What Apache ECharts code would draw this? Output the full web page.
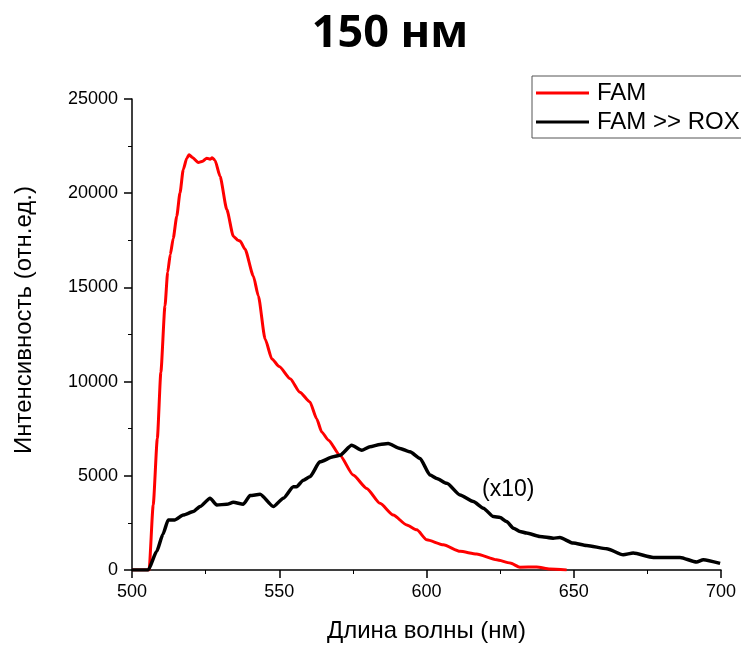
<!DOCTYPE html>
<html>
<head>
<meta charset="utf-8">
<script src="https://cdn.jsdelivr.net/npm/echarts@6/dist/echarts.min.js"></script>
<style>
  html, body { margin: 0; padding: 0; background: #fff; }
  #chart { width: 741px; height: 648px; }
</style>
</head>
<body>
<div id="chart"></div>
<script>
// FAM spectrum (wavelength, intensity)
const famX = [500, 505.8, 507.2, 508.6, 509.8, 511.2, 512.1, 513.0, 514.0, 515.2, 516.3, 517.4, 518.6, 519.4, 520.5,
  522.5, 524.0, 525.4, 526.5, 527.2, 528.2, 529.9, 532.2, 534.4, 536.0, 536.7, 538.4, 541.2, 542.9, 545.2,
  547.5, 550, 553.7, 557, 560.4, 562.7, 564.4, 566.7, 570.6, 575.1, 579.7, 584.2, 588.7, 593.3, 596.7,
  600.1, 605.7, 611.4, 617, 623.8, 628.4, 631.7, 637.4, 641.9, 647.6]
const famY = [0, 0, 3450, 6980, 10500, 14020, 15800, 16750, 17600, 18780, 20020, 21250, 21860, 22040, 21900,
  21630, 21700, 21860, 21800, 21880, 21740, 20900, 19130, 17720, 17500, 17460, 17020, 15610, 14550, 12260,
  11200, 10800, 10150, 9440, 8920, 8030, 7330, 6890, 6090, 5040, 4330, 3540, 2920, 2390, 2130,
  1600, 1340, 990, 850, 540, 370, 150, 160, 50, 0]

// FAM >> ROX spectrum (x10)
const roxX = [500, 505.5, 508.4, 510.5, 512.3, 514.6, 517.4, 520.8, 523.1, 526.5, 528.8, 532.2, 534.4, 537.8,
  540.1, 543.5, 548, 551.4, 554.8, 555.9, 558.2, 560.4, 563.8, 568.3, 570.6, 574.6, 578, 580.8, 584.2, 587,
  591, 594.4, 597.8, 601.2, 603.5, 606.9, 611.4, 615.9, 619.3, 622.7, 625, 627.2, 629.5, 631.7, 634, 638.5,
  643, 645.3, 649.8, 654.4, 661.2, 666.8, 670.2, 677, 686.1, 691.7, 694, 699.7]
const roxY = [0, 0, 990, 1900, 2660, 2660, 2920, 3100, 3370, 3810, 3450, 3490, 3590, 3490,
  3950, 4020, 3370, 3810, 4420, 4420, 4770, 4950, 5740, 6010, 6090, 6620, 6360, 6540, 6660, 6710,
  6450, 6270, 5920, 5040, 4860, 4600, 3980, 3630, 3280, 2840, 2790, 2570, 2220, 2050, 1960, 1780,
  1690, 1720, 1430, 1300, 1130, 810, 900, 670, 670, 420, 550, 350]

const seriesNames = ['FAM', 'FAM >> ROX']
const xTicks = { min: 500, max: 700, step: 50 }
const yTicks = { min: 0, max: 25000, step: 5000 }

const zip = (xs, ys) => xs.map((x, i) => [x, ys[i]])

const chartInstance = echarts.init(document.getElementById('chart'))
const font = '"Liberation Sans", Arial, sans-serif'

const option = {
  animation: false,
  backgroundColor: '#fff',
  title: {
    text: '150 нм',
    left: 385,
    top: 7,
    textAlign: 'center',
    textStyle: {
      fontFamily: '"Open Sans", sans-serif',
      fontWeight: 'bold',
      fontSize: 45,
      color: '#000',
    },
  },
  grid: {
    left: 132,
    right: 20,
    top: 99,
    bottom: 76,
  },
  legend: {
    orient: 'vertical',
    left: 532,
    top: 76,
    padding: [5, 300, 4, 4],
    itemGap: 5,
    itemWidth: 53,
    itemHeight: 3,
    icon: 'rect',
    borderColor: '#555',
    borderWidth: 1,
    align: 'left',
    textStyle: {
      fontFamily: font,
      fontSize: 24,
      lineHeight: 24,
      color: '#000',
      padding: [0, 0, 0, 3],
    },
    data: seriesNames,
  },
  xAxis: {
    type: 'value',
    min: xTicks.min,
    max: xTicks.max,
    interval: xTicks.step,
    name: 'Длина волны (нм)',
    nameLocation: 'middle',
    nameGap: 49,
    nameTextStyle: { fontFamily: font, fontSize: 24, color: '#000' },
    axisLine: { show: true, lineStyle: { color: '#000', width: 1.5 } },
    axisTick: { show: true, inside: false, length: 8, lineStyle: { color: '#000', width: 1.5 } },
    minorTick: { show: true, splitNumber: 2, length: 4, lineStyle: { color: '#000', width: 1 } },
    axisLabel: { fontFamily: font, fontSize: 18, color: '#000', margin: 13 },
    splitLine: { show: false },
  },
  yAxis: {
    type: 'value',
    min: yTicks.min,
    max: yTicks.max,
    interval: yTicks.step,
    axisLine: { show: true, lineStyle: { color: '#000', width: 1.5 } },
    axisTick: { show: true, inside: false, length: 8, lineStyle: { color: '#000', width: 1.5 } },
    minorTick: { show: true, splitNumber: 2, length: 4, lineStyle: { color: '#000', width: 1 } },
    axisLabel: { fontFamily: font, fontSize: 18, color: '#000', margin: 14, formatter: (v) => String(v) },
    splitLine: { show: false },
  },
  graphic: [
    {
      type: 'text',
      x: 24,
      y: 320,
      rotation: Math.PI / 2,
      style: {
        text: 'Интенсивность (отн.ед.)',
        fontFamily: font,
        fontSize: 24,
        fill: '#000',
        align: 'center',
        verticalAlign: 'middle',
      },
    },
    {
      type: 'text',
      left: 482,
      top: 478,
      style: {
        text: '(x10)',
        fontFamily: font,
        fontSize: 23,
        fill: '#000',
      },
    },
  ],
  series: [
    {
      name: seriesNames[0],
      type: 'line',
      data: zip(famX, famY),
      symbol: 'none',
      smooth: 0.2,
      smoothMonotone: 'x',
      color: '#ff0000',
      lineStyle: { color: '#ff0000', width: 3 },
    },
    {
      name: seriesNames[1],
      type: 'line',
      data: zip(roxX, roxY),
      symbol: 'none',
      smooth: 0.2,
      smoothMonotone: 'x',
      color: '#000',
      lineStyle: { color: '#000', width: 3.5 },
    },
  ],
}

chartInstance.setOption(option)
window.addEventListener('resize', () => chartInstance.resize())
</script>
</body>
</html>
